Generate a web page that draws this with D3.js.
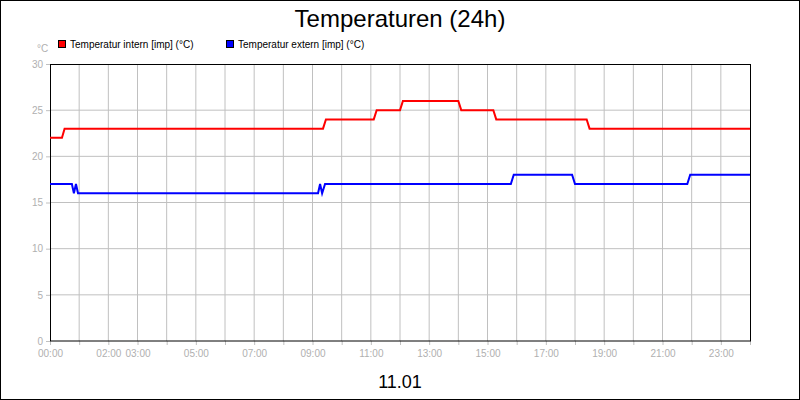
<!DOCTYPE html>
<html><head><meta charset="utf-8">
<script src="https://cdn.jsdelivr.net/npm/d3@7"></script>
<style>body{margin:0}svg{font-family:"Liberation Sans",Arial,sans-serif}</style>
</head><body><svg id="c" width="800" height="400"></svg>
<script>
const hourTicks = d3.range(0, 25);
const labelHours = [0, 2, 3, 5, 7, 9, 11, 13, 15, 17, 19, 21, 23];
const yTicks = [0, 5, 10, 15, 20, 25, 30];
const internT = [0, 0.41, 0.5, 9.36, 9.46, 11.1, 11.2, 12.0, 12.1, 14.0, 14.1, 15.2, 15.3, 18.4, 18.5, 24];
const internV = [22, 22, 23, 23, 24, 24, 25, 25, 26, 26, 25, 25, 24, 24, 23, 23];
const externT = [0, 0.75, 0.82, 0.89, 0.96, 9.19, 9.26, 9.33, 9.43, 15.8, 15.9, 17.9, 18.0, 21.85, 21.95, 24];
const externV = [17, 17, 16, 17, 16, 16, 17, 16, 17, 17, 18, 18, 17, 17, 18, 18];

const svg = d3.select('#c');
const x = d3.scaleLinear().domain([0, 24]).range([50, 750]);
const y = d3.scaleLinear().domain([0, 30]).range([341, 64]);

svg.append('rect').attr('x', 0.5).attr('y', 0.5).attr('width', 799).attr('height', 399)
  .attr('fill', '#fff').attr('stroke', '#000');

// grid
svg.append('g').selectAll('line').data(hourTicks.slice(1, -1)).join('line')
  .attr('x1', d => x(d)).attr('x2', d => x(d)).attr('y1', 64).attr('y2', 341)
  .attr('stroke', '#c0c0c0');
svg.append('g').selectAll('line').data(yTicks.slice(1, -1)).join('line')
  .attr('x1', 50).attr('x2', 750).attr('y1', d => y(d)).attr('y2', d => y(d))
  .attr('stroke', '#c0c0c0');

// axes
const xa = svg.append('g').attr('transform', 'translate(0,341)')
  .call(d3.axisBottom(x).tickValues(hourTicks).tickSize(4)
    .tickFormat(d => labelHours.includes(d) ? String(d).padStart(2, '0') + ':00' : ''));
const ya = svg.append('g').attr('transform', 'translate(50,0)')
  .call(d3.axisLeft(y).tickValues(yTicks).tickSize(4));
[xa, ya].forEach(a => {
  a.select('.domain').remove();
  a.selectAll('line').attr('stroke', '#c0c0c0');
  a.selectAll('text').attr('fill', '#b0b0b0').style('font-size', '10px');
});
xa.selectAll('text').attr('dy', '0.9em');

svg.append('rect').attr('x', 50.5).attr('y', 64.5).attr('width', 700).attr('height', 276.5)
  .attr('fill', 'none').attr('stroke', '#000');

const line = d3.line().x(d => x(d[0])).y(d => y(d[1]));
svg.append('path').datum(d3.zip(internT, internV)).attr('d', line)
  .attr('fill', 'none').attr('stroke', '#ff0000').attr('stroke-width', 2);
svg.append('path').datum(d3.zip(externT, externV)).attr('d', line)
  .attr('fill', 'none').attr('stroke', '#0000ff').attr('stroke-width', 2);

// texts
svg.append('text').attr('x', 400).attr('y', 27).attr('text-anchor', 'middle')
  .style('font-size', '24px').text('Temperaturen (24h)');
svg.append('text').attr('x', 400).attr('y', 388).attr('text-anchor', 'middle')
  .style('font-size', '18px').text('11.01');
svg.append('text').attr('x', 37).attr('y', 52).attr('fill', '#b0b0b0')
  .style('font-size', '10px').text('°C');

const legend = [['Temperatur intern [imp] (°C)', '#ff0000', 58], ['Temperatur extern [imp] (°C)', '#0000ff', 226]];
legend.forEach(([t, c, lx]) => {
  svg.append('rect').attr('x', lx + 0.5).attr('y', 40.5).attr('width', 7).attr('height', 7)
    .attr('fill', c).attr('stroke', '#000');
  svg.append('text').attr('x', lx + 12).attr('y', 48).style('font-size', '10px').text(t);
});
</script></body></html>
